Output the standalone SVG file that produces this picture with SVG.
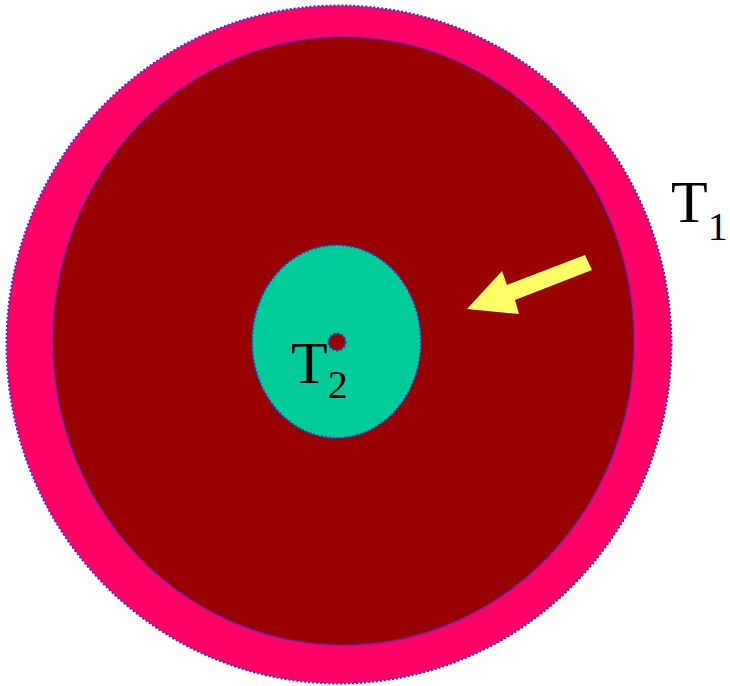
<svg xmlns="http://www.w3.org/2000/svg" width="730" height="686" viewBox="0 0 730 686">
<style>
.ring{stroke:#3333CC;stroke-width:2;stroke-dasharray:2 2}
.lbl{font-family:"Liberation Serif","Times New Roman",serif;fill:#000}
.big{font-size:60px}
.sub{font-size:40px}
</style>
<rect width="730" height="686" fill="#fff"/>
<g id="outer"><ellipse class="ring" cx="339" cy="344.5" rx="332.5" ry="339" fill="#FF0066"/></g>
<g id="inner"><ellipse class="ring" cx="343.5" cy="341" rx="290.5" ry="304" fill="#990000"/></g>
<g id="core"><ellipse class="ring" cx="336.5" cy="341.5" rx="84.5" ry="96.5" fill="#00CC99"/></g>
<g id="dot"><circle class="ring" cx="337" cy="342" r="8.5" fill="#990000"/></g>
<g id="connectors">
<polygon points="585,255 507,285 502,271 467,309 519,314 515,300 592,270" fill="#FFFF66"/>
</g>
<g id="label-T2"><text class="lbl" x="291" y="383"><tspan class="big">T</tspan><tspan class="sub" dy="15">2</tspan></text></g>
<g id="label-T1"><text class="lbl" x="671" y="222"><tspan class="big">T</tspan><tspan class="sub" dy="18">1</tspan></text></g>
</svg>
